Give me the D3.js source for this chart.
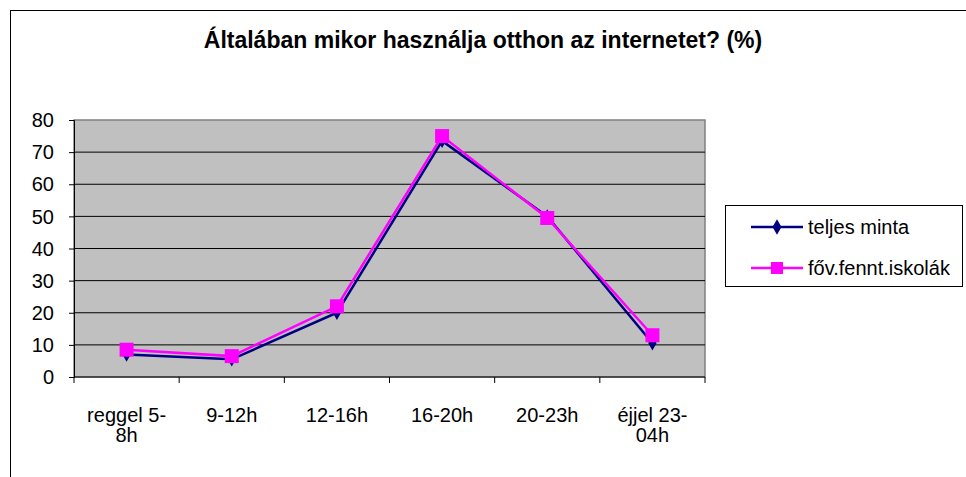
<!DOCTYPE html>
<html><head><meta charset="utf-8">
<script src="https://cdn.jsdelivr.net/npm/d3@7"></script>
<style>body{margin:0;background:#fff}svg{display:block;font-family:"Liberation Sans",Arial,sans-serif}</style>
</head><body><svg id="c" width="966" height="477"></svg>
<script>
const categories = [["reggel 5-","8h"],["9-12h"],["12-16h"],["16-20h"],["20-23h"],["éjjel 23-","04h"]];
const teljesMinta = [7, 5.5, 20, 73.5, 50, 10.5];
const fovFenntIskolak = [8.5, 6.5, 22, 75, 49.5, 13];
const yTicks = [0,10,20,30,40,50,60,70,80];
const seriesNames = ["teljes minta","főv.fennt.iskolák"];
const title = "Általában mikor használja otthon az internetet? (%)";

const svg = d3.select("#c");
svg.append("rect").attr("x",10.5).attr("y",10.5).attr("width",1000).attr("height",1000)
  .attr("fill","#fff").attr("stroke","#000").attr("stroke-width",1);

const L=74,R=705,T=120,B=377;
const x = d3.scaleBand().domain(d3.range(categories.length)).range([L,R]);
const y = d3.scaleLinear().domain([0,80]).range([B,T]);

svg.append("text").attr("x",483).attr("y",48).attr("text-anchor","middle")
  .attr("font-size",23).attr("font-weight","bold").text(title);

svg.append("rect").attr("x",L).attr("y",T).attr("width",R-L).attr("height",B-T)
  .attr("fill","#c0c0c0").attr("stroke","#808080").attr("stroke-width",1.5);

svg.append("g").selectAll("line").data(yTicks.slice(1,-1)).join("line")
  .attr("x1",L).attr("x2",R).attr("y1",d=>y(d)).attr("y2",d=>y(d))
  .attr("stroke","#000").attr("stroke-width",1);

const ya = svg.append("g").attr("transform",`translate(${L},0)`)
  .call(d3.axisLeft(y).tickValues(yTicks).tickSize(5).tickPadding(15));
ya.select(".domain").attr("stroke","#000");
ya.selectAll("line").attr("stroke","#000");
ya.selectAll("text").attr("font-size",20).attr("font-family","Liberation Sans, Arial, sans-serif")
  .attr("fill","#000").attr("dy",null).attr("dominant-baseline",null)
  .attr("y",6.7).attr("x",-20);

// x axis
svg.append("line").attr("x1",L).attr("x2",R).attr("y1",B).attr("y2",B).attr("stroke","#000");
const edges = d3.range(categories.length+1).map(i=> i<categories.length ? x(i) : x(categories.length-1)+x.bandwidth());
svg.append("g").selectAll("line").data(edges).join("line")
  .attr("x1",d=>d).attr("x2",d=>d).attr("y1",B).attr("y2",B+6).attr("stroke","#000");
const xl = svg.append("g").selectAll("text").data(categories).join("text")
  .attr("x",(d,i)=>x(i)+x.bandwidth()/2).attr("y",422).attr("text-anchor","middle")
  .attr("font-size",20);
xl.selectAll("tspan").data(d=>d).join("tspan")
  .attr("x",function(){return this.parentNode.getAttribute("x");})
  .attr("dy",(d,i)=>i===0?0:20).text(d=>d);

const cx = i=>x(i)+x.bandwidth()/2;
const line = d3.line().x((d,i)=>cx(i)).y(d=>y(d));
svg.append("path").datum(teljesMinta).attr("d",line).attr("fill","none").attr("stroke","#000080").attr("stroke-width",2.5);
svg.append("g").selectAll("path").data(teljesMinta).join("path")
  .attr("d",d3.symbol(d3.symbolDiamond,60)).attr("transform",(d,i)=>`translate(${cx(i)},${y(d)})`).attr("fill","#000080");
svg.append("path").datum(fovFenntIskolak).attr("d",line).attr("fill","none").attr("stroke","#ff00ff").attr("stroke-width",2.5);
svg.append("g").selectAll("rect").data(fovFenntIskolak).join("rect")
  .attr("x",(d,i)=>cx(i)-7).attr("y",d=>y(d)-7).attr("width",14).attr("height",14).attr("fill","#ff00ff");

// legend
const lg = svg.append("g");
lg.append("rect").attr("x",725.5).attr("y",205.5).attr("width",237).attr("height",81)
  .attr("fill","#fff").attr("stroke","#000");
const cols=["#000080","#ff00ff"];
seriesNames.forEach((n,i)=>{
  const yy = 227+i*41;
  lg.append("line").attr("x1",751).attr("x2",803).attr("y1",yy).attr("y2",yy).attr("stroke",cols[i]).attr("stroke-width",2.5);
  if(i===0) lg.append("path").attr("d",d3.symbol(d3.symbolDiamond,70)).attr("transform",`translate(777,${yy})`).attr("fill",cols[i]);
  else lg.append("rect").attr("x",771).attr("y",yy-6).attr("width",12).attr("height",12).attr("fill",cols[i]);
  lg.append("text").attr("x",808).attr("y",yy+6.5).attr("font-size",20).text(n);
});
</script></body></html>
